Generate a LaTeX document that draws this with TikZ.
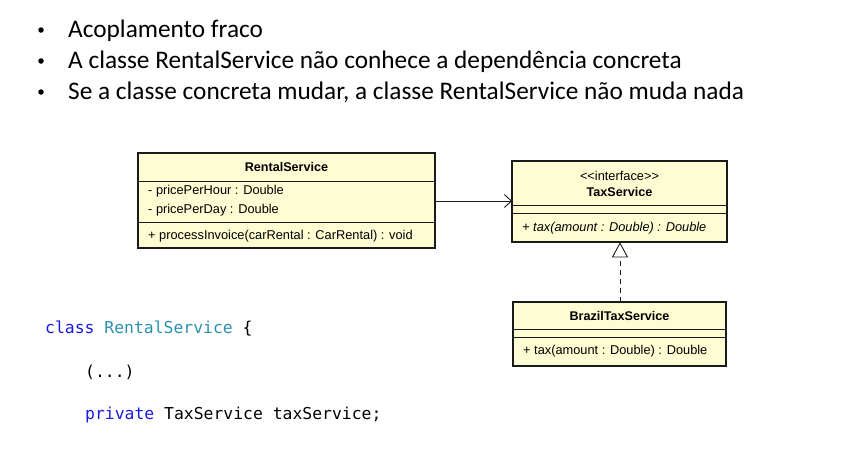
\documentclass[tikz,border=0pt]{standalone}
\usepackage{fontspec}
\setmainfont{Carlito}
\newfontfamily\umlfont{Liberation Sans}
\newfontfamily\codefont{DejaVu Sans Mono}
\usetikzlibrary{arrows.meta}
\definecolor{umlfill}{HTML}{FEFCD2}
\definecolor{umlline}{HTML}{1A1A1A}
\definecolor{kwblue}{HTML}{1A1AE6}
\definecolor{typeteal}{HTML}{2B91AF}
\tikzset{
  bullettext/.style={anchor=base west, font=\fontsize{25.3}{30}\selectfont, inner sep=0pt},
  bulletdot/.style={circle, fill=black, inner sep=0pt, minimum size=5.5pt},
  umlbox/.style={draw=umlline, line width=2.2pt, fill=umlfill},
  umlsep/.style={draw=umlline, line width=0.9pt},
  umltext/.style={font=\umlfont\fontsize{12.8}{15}\selectfont, inner sep=0pt},
  umltitle/.style={umltext, font=\umlfont\bfseries\fontsize{12.6}{15}\selectfont},
  codetext/.style={anchor=base west, font=\codefont\fontsize{16.4}{20}\selectfont, inner sep=0pt},
}
\begin{document}
\begin{tikzpicture}[x=1pt,y=-1pt]
\useasboundingbox (0,0) rectangle (842,467);
\fill[white] (0,0) rectangle (842,467);

% bullet list
\node[bulletdot] (d1) at (41,30) {};
\node[bullettext] (b1) at (68,37) {Acoplamento fraco};
\node[bulletdot] (d2) at (41,61) {};
\node[bullettext] (b2) at (68,68) {A classe RentalService não conhece a dependência concreta};
\node[bulletdot] (d3) at (41,92) {};
\node[bullettext] (b3) at (68,99) {Se a classe concreta mudar, a classe RentalService não muda nada};

% RentalService class
\draw[umlbox] (138,153) rectangle (435,248);
\draw[umlsep] (138,181) -- (435,181);
\draw[umlsep] (138,222) -- (435,222);
\node[umltitle] (rsname) at (286.5,167) {RentalService};
\node[umltext, anchor=west] (rsa1) at (148,191) {- pricePerHour : Double};
\node[umltext, anchor=west] (rsa2) at (148,210) {- pricePerDay : Double};
\node[umltext, anchor=west] (rsm1) at (148,236) {+ processInvoice(carRental : CarRental) : void};
\coordinate (rsright) at (435,201);

% TaxService interface
\draw[umlbox] (512,161) rectangle (727,242);
\draw[umlsep] (512,205) -- (727,205);
\draw[umlsep] (512,213) -- (727,213);
\node[umltext] (tsst) at (619.5,176) {<<interface>>};
\node[umltitle] (tsname) at (619.5,192) {TaxService};
\node[umltext, anchor=west] (tsm1) at (522,228) {\itshape + tax(amount : Double) : Double};
\coordinate (tsleft) at (512,201);
\coordinate (tsbottom) at (620,242);

% BrazilTaxService class
\draw[umlbox] (513,302) rectangle (726,366);
\draw[umlsep] (513,329) -- (726,329);
\draw[umlsep] (513,337) -- (726,337);
\node[umltitle] (btname) at (619.5,316) {BrazilTaxService};
\node[umltext, anchor=west] (btm1) at (523,351) {+ tax(amount : Double) : Double};
\coordinate (bttop) at (620,302);

% association and realization
\draw[line width=0.9pt, draw=umlline, -{Straight Barb[length=7pt, width=13pt, line width=0.9pt]}] (rsright) -- (tsleft);
\draw[line width=0.9pt, draw=umlline, dashed, dash pattern=on 5pt off 4pt] (bttop) -- (620,257);
\draw[line width=0.9pt, draw=umlline, fill=white] (tsbottom) ++(0,1.2) -- (612.5,257) -- (627.5,257) -- cycle;

% code snippet
\node[codetext] (c1) at (45,333) {\textcolor{kwblue}{class} \textcolor{typeteal}{RentalService} \{};
\node[codetext] (c2) at (85,377) {(...)};
\node[codetext] (c3) at (85,419) {\textcolor{kwblue}{private} TaxService taxService;};
\end{tikzpicture}
\end{document}
